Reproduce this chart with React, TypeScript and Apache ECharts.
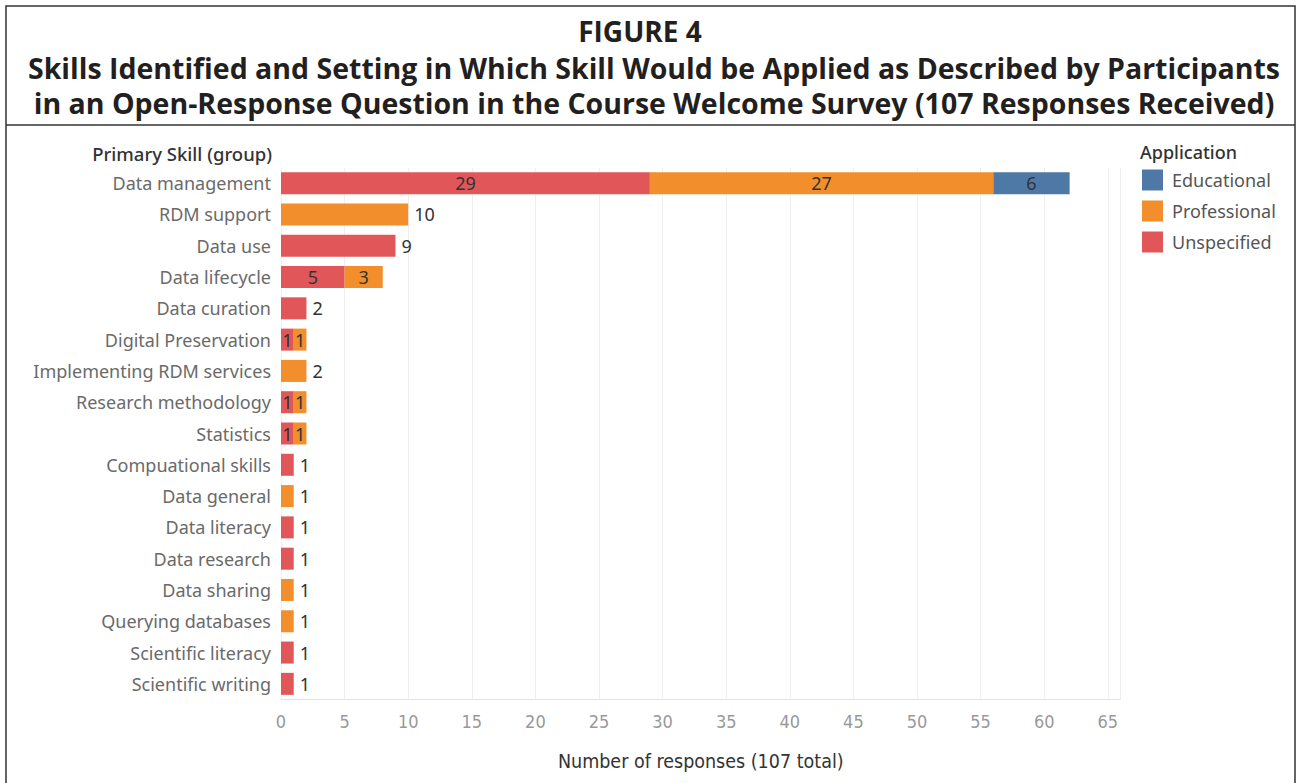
import React, { useEffect, useRef } from "react";
import * as echarts from "echarts";

// Skill groups, top to bottom
const skills: string[] = [
  "Data management",
  "RDM support",
  "Data use",
  "Data lifecycle",
  "Data curation",
  "Digital Preservation",
  "Implementing RDM services",
  "Research methodology",
  "Statistics",
  "Compuational skills",
  "Data general",
  "Data literacy",
  "Data research",
  "Data sharing",
  "Querying databases",
  "Scientific literacy",
  "Scientific writing",
];

// Responses per application setting (null = none)
const unspecified: (number | null)[] = [29, null, 9, 5, 2, 1, null, 1, 1, 1, null, 1, 1, null, null, 1, 1];
const professional: (number | null)[] = [27, 10, null, 3, null, 1, 2, 1, 1, null, 1, null, null, 1, 1, null, null];
const educational: (number | null)[] = [6, null, null, null, null, null, null, null, null, null, null, null, null, null, null, null, null];

const applications = ["Educational", "Professional", "Unspecified"];
const colors: Record<string, string> = {
  Educational: "#4E79A7",
  Professional: "#F28E2B",
  Unspecified: "#E15759",
};

const xTicks = { min: 0, max: 66, interval: 5 };

const FONT = "'Noto Sans', 'Open Sans', sans-serif";
const NARROW = "'Liberation Sans Narrow', 'DejaVu Sans Condensed', 'Noto Sans', sans-serif";
const TITLE_FONT = "'Open Sans', 'Noto Sans', sans-serif";

// number of filled segments in each row
const segmentCount = skills.map(
  (_, i) => [unspecified[i], professional[i], educational[i]].filter((v) => v != null).length
);

function buildData(values: (number | null)[]) {
  return values.map((v, i) => {
    if (v == null) return "-";
    const inside = segmentCount[i] > 1;
    return {
      value: v,
      label: {
        show: true,
        position: inside ? "inside" : "right",
        distance: 6,
        color: "#333",
        fontSize: 18,
        fontFamily: FONT,
      },
    };
  });
}

export default function App() {
  const ref = useRef<HTMLDivElement>(null);

  useEffect(() => {
    if (!ref.current) return;
    const chart = echarts.init(ref.current, null, { renderer: "svg" });

    const seriesDefs: [string, (number | null)[]][] = [
      ["Unspecified", unspecified],
      ["Professional", professional],
      ["Educational", educational],
    ];

    const titleStyle = {
      align: "center",
      verticalAlign: "middle",
      fontFamily: TITLE_FONT,
      fontWeight: "bold",
      fill: "#231f20",
    };

    chart.setOption({
      animation: false,
      backgroundColor: "#fff",
      graphic: [
        {
          type: "rect",
          shape: { x: 6, y: 6, width: 1289, height: 820 },
          style: { fill: "none", stroke: "#333", lineWidth: 1.5 },
          silent: true,
        },
        {
          type: "line",
          shape: { x1: 6, y1: 125, x2: 1295, y2: 125 },
          style: { stroke: "#333", lineWidth: 1.5 },
          silent: true,
        },
        {
          type: "text",
          x: 640,
          y: 31,
          style: { ...titleStyle, text: "FIGURE 4", fontSize: 28 },
        },
        {
          type: "text",
          x: 654,
          y: 68,
          style: {
            ...titleStyle,
            text: "Skills Identified and Setting in Which Skill Would be Applied as Described by Participants",
            fontSize: 28.5,
          },
        },
        {
          type: "text",
          x: 654,
          y: 103,
          style: {
            ...titleStyle,
            text: "in an Open-Response Question in the Course Welcome Survey (107 Responses Received)",
            fontSize: 28.5,
          },
        },
        {
          type: "text",
          x: 272,
          y: 153,
          style: {
            text: "Primary Skill (group)",
            align: "right",
            verticalAlign: "middle",
            fontFamily: FONT,
            fontWeight: 500,
            fontSize: 18.5,
            fill: "#333",
          },
        },
        {
          type: "text",
          x: 1140,
          y: 152,
          style: {
            text: "Application",
            align: "left",
            verticalAlign: "middle",
            fontFamily: FONT,
            fontWeight: 500,
            fontSize: 18,
            fill: "#333",
          },
        },
      ],
      legend: {
        data: applications,
        orient: "vertical",
        left: 1142,
        top: 169.5,
        padding: 0,
        itemWidth: 21,
        itemHeight: 21,
        itemGap: 10,
        icon: "rect",
        textStyle: { fontFamily: FONT, fontSize: 18, color: "#555", padding: [0, 0, 0, 4] },
        selectedMode: false,
      },
      grid: { left: 281, top: 167.5, width: 839.5, height: 532, containLabel: false },
      xAxis: {
        type: "value",
        min: xTicks.min,
        max: xTicks.max,
        interval: xTicks.interval,
        axisLine: { show: true, lineStyle: { color: "#e4e4e4", width: 1 } },
        axisTick: { show: false },
        axisLabel: {
          fontFamily: NARROW,
          fontSize: 18,
          color: "#999",
          margin: 13,
          showMaxLabel: false,
        },
        splitLine: { show: true, lineStyle: { color: "#efefef", width: 1 } },
        name: "Number of responses (107 total)",
        nameLocation: "middle",
        nameGap: 52,
        nameTextStyle: { fontFamily: NARROW, fontSize: 19.5, color: "#333" },
      },
      yAxis: {
        type: "category",
        data: skills,
        inverse: true,
        axisLine: { show: false },
        axisTick: { show: false },
        axisLabel: { fontFamily: FONT, fontSize: 18, color: "#6a6a6a", margin: 10 },
        splitLine: { show: false },
      },
      series: seriesDefs.map(([name, values]) => ({
        name,
        type: "bar",
        stack: "total",
        barWidth: 22,
        itemStyle: { color: colors[name] },
        data: buildData(values),
      })),
    });

    return () => chart.dispose();
  }, []);

  return (
    <div
      ref={ref}
      style={{ position: "fixed", left: 0, top: 0, width: 1301, height: 783, background: "#fff" }}
    />
  );
}
